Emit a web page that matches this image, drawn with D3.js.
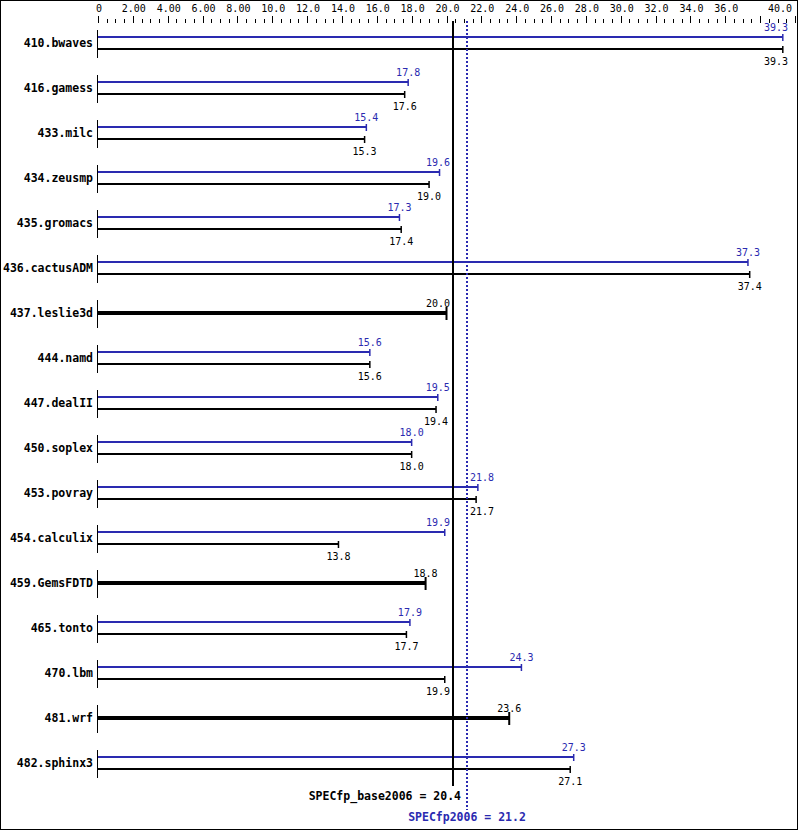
<!DOCTYPE html>
<html><head><meta charset="utf-8">
<script src="https://cdn.jsdelivr.net/npm/d3@7"></script>
<style>body{margin:0;background:#fff}svg{display:block}</style>
</head><body>
<script>
const benchmarks = ["410.bwaves","416.gamess","433.milc","434.zeusmp","435.gromacs","436.cactusADM","437.leslie3d","444.namd","447.dealII","450.soplex","453.povray","454.calculix","459.GemsFDTD","465.tonto","470.lbm","481.wrf","482.sphinx3"];
const peakValues = [39.3,17.8,15.4,19.6,17.3,37.3,null,15.6,19.5,18.0,21.8,19.9,null,17.9,24.3,null,27.3];
const baseValues = [39.3,17.6,15.3,19.0,17.4,37.4,20.0,15.6,19.4,18.0,21.7,13.8,18.8,17.7,19.9,23.6,27.1];
const tickValues = [0,2,4,6,8,10,12,14,16,18,20,22,24,26,28,30,32,34,36,40];
const tickLabels = ["0","2.00","4.00","6.00","8.00","10.0","12.0","14.0","16.0","18.0","20.0","22.0","24.0","26.0","28.0","30.0","32.0","34.0","36.0","40.0"];
const baseScore = 20.4, peakScore = 21.2;
const baseLabel = "SPECfp_base2006 = 20.4", peakLabel = "SPECfp2006 = 21.2";

const W = 799, H = 831;
const BLUE = "#2a2ab0";
const mono = "'DejaVu Sans Mono', 'Liberation Mono', monospace";
const svg = d3.select("body").append("svg").attr("width", W).attr("height", H);
svg.append("rect").attr("x",0.5).attr("y",0.5).attr("width",W-2).attr("height",H-2).attr("fill","#fff").attr("stroke","#000");

const x = d3.scaleLinear().domain([0,40]).range([98,795]);
const y = d3.scalePoint().domain(benchmarks).range([43, 43+45*16]);

// ticks
const minor = d3.range(0, 40.01, 0.5);
svg.append("g").selectAll("line").data(minor).join("line")
  .attr("x1", d => Math.round(x(d))+0.5).attr("x2", d => Math.round(x(d))+0.5)
  .attr("y1", d => (d % 2 === 0) ? 16 : 19).attr("y2", 23)
  .attr("stroke","#000").attr("stroke-width",1);
svg.append("g").selectAll("text").data(tickValues).join("text")
  .attr("x", (d,i) => d === 40 ? x(d) - 3 : x(d) + 1)
  .attr("y", 12)
  .attr("text-anchor", d => d === 40 ? "end" : "middle")
  .attr("font-family", mono).attr("font-size", "10px").attr("fill","#000")
  .text((d,i) => tickLabels[i]);

const bx = Math.round(x(baseScore)), px = Math.round(x(peakScore));

// rows
const g = svg.append("g");
benchmarks.forEach((b, i) => {
  const cy = y(b);
  g.append("line").attr("x1",97.5).attr("x2",97.5).attr("y1",cy-13).attr("y2",cy+15).attr("stroke","#000");
  g.append("text").attr("x",93).attr("y",cy+4).attr("text-anchor","end")
    .attr("font-family",mono).attr("font-weight","bold").attr("font-size","11.5px").text(b);
  const pv = peakValues[i], bv = baseValues[i];
  function placeLabel(v, ty, color) {
    const w = 24; let cx = x(v);
    let l = cx - w/2, r = cx + w/2;
    [bx, px].forEach(lx => {
      if (l < lx + 2 && r > lx - 2) {
        if (cx < lx) { cx = lx - 3 - w/2; } else { cx = lx + 3 + w/2; }
      }
    });
    if (cx + w/2 > 788) cx = 788 - w/2;
    g.append("text").attr("x",cx).attr("y",ty).attr("text-anchor","middle")
      .attr("font-family",mono).attr("font-size","10px").attr("fill",color).text(v.toFixed(1));
  }
  if (pv == null) {
    g.append("line").attr("x1",98).attr("x2",x(bv)).attr("y1",cy).attr("y2",cy).attr("stroke","#000").attr("stroke-width",4);
    g.append("line").attr("x1",x(bv)).attr("x2",x(bv)).attr("y1",cy-6).attr("y2",cy+7).attr("stroke","#000").attr("stroke-width",2);
    placeLabel(bv, cy-6, "#000");
  } else {
    const yp = cy-6, yb = cy+6;
    g.append("line").attr("x1",98).attr("x2",x(pv)).attr("y1",yp).attr("y2",yp).attr("stroke",BLUE).attr("stroke-width",2);
    g.append("line").attr("x1",x(pv)).attr("x2",x(pv)).attr("y1",yp-3).attr("y2",yp+4).attr("stroke",BLUE).attr("stroke-width",1.5);
    g.append("line").attr("x1",98).attr("x2",x(bv)).attr("y1",yb).attr("y2",yb).attr("stroke","#000").attr("stroke-width",2);
    g.append("line").attr("x1",x(bv)).attr("x2",x(bv)).attr("y1",yb-3).attr("y2",yb+4).attr("stroke","#000").attr("stroke-width",1.5);
    placeLabel(pv, yp-6, BLUE);
    placeLabel(bv, yb+16, "#000");
  }
});

// score lines
svg.append("line").attr("x1",bx).attr("x2",bx).attr("y1",21).attr("y2",786).attr("stroke","#000").attr("stroke-width",2);
svg.append("line").attr("x1",px).attr("x2",px).attr("y1",21).attr("y2",810).attr("stroke",BLUE).attr("stroke-width",2).attr("stroke-dasharray","2,2");
svg.append("text").attr("x",bx+8).attr("y",800).attr("text-anchor","end")
  .attr("font-family",mono).attr("font-weight","bold").attr("font-size","11.5px").text(baseLabel);
svg.append("text").attr("x",px).attr("y",821).attr("text-anchor","middle")
  .attr("font-family",mono).attr("font-weight","bold").attr("font-size","11.5px").attr("fill",BLUE).text(peakLabel);
</script>
</body></html>
